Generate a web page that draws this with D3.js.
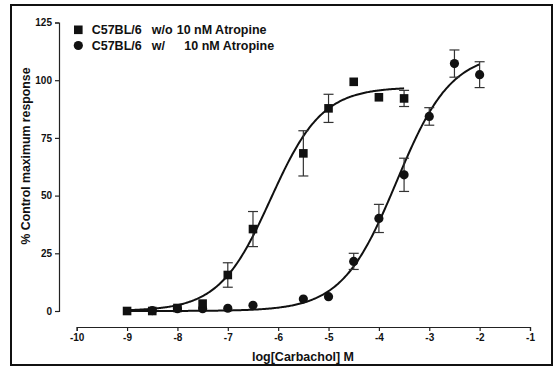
<!DOCTYPE html>
<html>
<head>
<meta charset="utf-8">
<script src="https://cdn.jsdelivr.net/npm/d3@7/dist/d3.min.js"></script>
<style>
  body { margin: 0; background: #fff; }
  text { font-family: "Liberation Sans", Arial, sans-serif; font-weight: bold; fill: #111; }
</style>
</head>
<body>
<div id="chart"></div>
<script>
'use strict';

// log[Carbachol] M
const woDoses = [-9, -8.5, -8, -7.5, -7, -6.5, -5.5, -5, -4.5, -4, -3.5];
const woMeans = [0, 0, 1.3, 3.2, 15.6, 35.5, 68.3, 87.8, 99.3, 92.6, 92.1];
const woErrs  = [0, 0, 0, 0, 5.3, 7.6, 9.8, 6.1, 0, 0, 3.5];

const wDoses = [-8.5, -8, -7.5, -7, -6.5, -5.5, -5, -4.5, -4, -3.5, -3, -2.5, -2];
const wMeans = [0.2, 1.0, 1.0, 1.2, 2.5, 5.2, 6.2, 21.5, 40.1, 59.0, 84.3, 107.2, 102.4];
const wErrs  = [0, 0, 0, 0, 0, 0, 0, 3.5, 6.1, 7.2, 3.8, 5.9, 5.6];

// fitted sigmoid parameters [bottom, top, logEC50, hill]
const woFit = [0, 97, -6.15, 0.85];
const wFit = [0, 112, -3.65, 0.8];

const xTicks = [-10, -9, -8, -7, -6, -5, -4, -3, -2, -1];
const yTicks = [0, 25, 50, 75, 100, 125];

const W = 553, H = 368;
const svg = d3.select('#chart').append('svg')
    .attr('width', W)
    .attr('height', H);

// outer frame
svg.append('rect')
    .attr('x', 11).attr('y', 5)
    .attr('width', 541).attr('height', 360)
    .attr('fill', 'none')
    .attr('stroke', '#111')
    .attr('stroke-width', 2);

const x = d3.scaleLinear().domain([-10, -1]).range([76.7, 530]);
const y = d3.scaleLinear().domain([0, 125]).range([311, 22.5]);

const yAxisX = 59;
const xAxisY = 327;

const yAxis = svg.append('g')
    .attr('transform', `translate(${yAxisX},0)`)
    .call(d3.axisLeft(y).tickValues(yTicks).tickSize(4).tickPadding(3));

const xAxis = svg.append('g')
    .attr('transform', `translate(0,${xAxisY})`)
    .call(d3.axisBottom(x).tickValues(xTicks).tickSize(4).tickPadding(3)
      .tickFormat(d => String(d)));

[xAxis, yAxis].forEach(g => {
  g.select('.domain').attr('stroke', '#222').attr('stroke-width', 1.2);
  g.selectAll('.tick line').attr('stroke', '#222').attr('stroke-width', 1.2);
  g.selectAll('.tick text')
      .style('font-size', '10px')
      .style('font-family', '"Liberation Sans", Arial, sans-serif')
      .style('font-weight', 'bold')
      .attr('fill', '#111');
});

svg.append('text')
    .attr('x', 303).attr('y', 361)
    .attr('text-anchor', 'middle')
    .style('font-size', '12.5px')
    .text('log[Carbachol] M');

svg.append('text')
    .attr('transform', 'translate(30,156) rotate(-90)')
    .attr('text-anchor', 'middle')
    .style('font-size', '12.3px')
    .text('% Control maximum response');

// fitted curves
const sigmoid = p => v => p[0] + (p[1] - p[0]) / (1 + Math.pow(10, (p[2] - v) * p[3]));
const line = d3.line().x(d => x(d[0])).y(d => y(d[1]));

function curve(p, x0, x1) {
  const f = sigmoid(p);
  return d3.range(x0, x1 + 0.001, 0.02).map(v => [v, f(v)]);
}

svg.append('path')
    .datum(curve(woFit, -9, -3.5))
    .attr('d', line)
    .attr('fill', 'none')
    .attr('stroke', '#111')
    .attr('stroke-width', 2);

svg.append('path')
    .datum(curve(wFit, -9, -2))
    .attr('d', line)
    .attr('fill', 'none')
    .attr('stroke', '#111')
    .attr('stroke-width', 2);

// error bars
function errorBars(doses, means, errs) {
  const data = doses.map((d, i) => ({ d, m: means[i], e: errs[i] })).filter(o => o.e > 0);
  const g = svg.append('g').attr('stroke', '#333').attr('stroke-width', 1.2);
  g.selectAll('.ev').data(data).enter().append('line')
      .attr('x1', o => x(o.d)).attr('x2', o => x(o.d))
      .attr('y1', o => y(o.m - o.e)).attr('y2', o => y(o.m + o.e));
  [1, -1].forEach(s => {
    g.selectAll('.cap' + s).data(data).enter().append('line')
        .attr('x1', o => x(o.d) - 5).attr('x2', o => x(o.d) + 5)
        .attr('y1', o => y(o.m + s * o.e)).attr('y2', o => y(o.m + s * o.e));
  });
}
errorBars(wDoses, wMeans, wErrs);
errorBars(woDoses, woMeans, woErrs);

// points
svg.selectAll('.circ')
    .data(wDoses.map((d, i) => [d, wMeans[i]]))
  .enter().append('circle')
    .attr('cx', d => x(d[0]))
    .attr('cy', d => y(d[1]))
    .attr('r', 4.6)
    .attr('fill', '#111');

const sq = 8.6;
svg.selectAll('.sq')
    .data(woDoses.map((d, i) => [d, woMeans[i]]))
  .enter().append('rect')
    .attr('x', d => x(d[0]) - sq / 2)
    .attr('y', d => y(d[1]) - sq / 2)
    .attr('width', sq).attr('height', sq)
    .attr('fill', '#111');

// legend
svg.append('rect')
    .attr('x', 74).attr('y', 25.5)
    .attr('width', sq).attr('height', sq)
    .attr('fill', '#111');
svg.append('circle')
    .attr('cx', 78.3).attr('cy', 45.5).attr('r', 4.6)
    .attr('fill', '#111');

const legendFont = '12.5px';
const leg = [
  { y: 33.5, parts: [['C57BL/6', 91.7], ['w/o', 151.7], ['10 nM Atropine', 176.7]] },
  { y: 49.5, parts: [['C57BL/6', 91.7], ['w/', 151.7], ['10 nM Atropine', 184.3]] }
];
leg.forEach(row => {
  row.parts.forEach(p => {
    svg.append('text')
        .attr('x', p[1]).attr('y', row.y)
        .style('font-size', legendFont)
        .text(p[0]);
  });
});
</script>
</body>
</html>
